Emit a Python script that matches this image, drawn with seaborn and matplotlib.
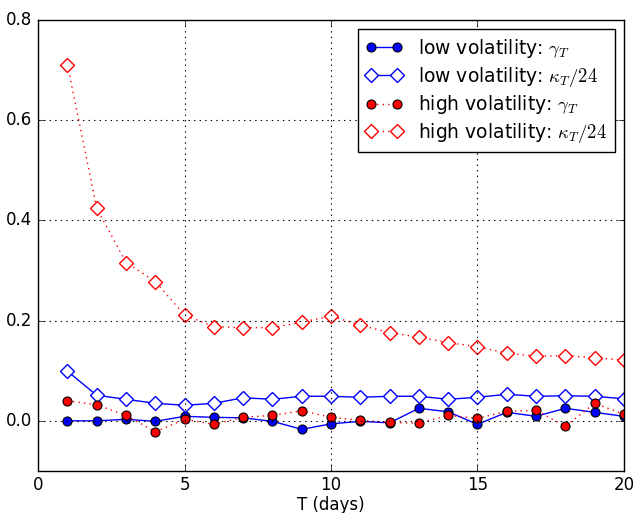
import numpy as np
import pandas as pd
import matplotlib
matplotlib.use('Agg')
import matplotlib.pyplot as plt
import seaborn as sns

# horizonte en dias
T = list(range(1, 21))

low_gamma = [0.0, 0.0, 0.003, -0.001, 0.009, 0.007, 0.006, -0.001, -0.017, -0.006,
             -0.001, -0.004, 0.025, 0.018, -0.007, 0.017, 0.009, 0.025, 0.017, 0.009]
low_kappa = [0.099, 0.051, 0.043, 0.035, 0.031, 0.035, 0.046, 0.043, 0.049, 0.049,
             0.047, 0.049, 0.049, 0.043, 0.047, 0.053, 0.049, 0.050, 0.049, 0.044]
high_gamma = [0.040, 0.032, 0.011, -0.022, 0.003, -0.007, 0.007, 0.011, 0.020, 0.007,
              0.001, -0.003, -0.005, 0.011, 0.005, 0.019, 0.021, -0.011, 0.035, 0.013]
high_kappa = [0.711, 0.424, 0.316, 0.278, 0.211, 0.188, 0.186, 0.186, 0.197, 0.209,
              0.191, 0.176, 0.167, 0.156, 0.148, 0.135, 0.129, 0.130, 0.126, 0.121]

labels = [r'low volatility: $\gamma_T$', r'low volatility: $\kappa_T/24$',
          r'high volatility: $\gamma_T$', r'high volatility: $\kappa_T/24$']

plt.style.use('classic')

fig = plt.figure(figsize=(6.36, 5.13), dpi=100, facecolor='white')
ax = fig.add_axes([0.06, 0.082, 0.921, 0.879])

# volatilidad baja
sns.lineplot(x=T, y=low_gamma, ax=ax, color='blue', linestyle='-', marker='o',
             markersize=6.5, markerfacecolor='blue', markeredgecolor='black',
             markeredgewidth=0.8, label=labels[0])
sns.lineplot(x=T, y=low_kappa, ax=ax, color='blue', linestyle='-', marker='D',
             markersize=7, markerfacecolor='white', markeredgecolor='blue',
             markeredgewidth=1.0, label=labels[1])
# volatilidad alta
sns.lineplot(x=T, y=high_gamma, ax=ax, color='red', linestyle=':', marker='o',
             markersize=6.5, markerfacecolor='red', markeredgecolor='black',
             markeredgewidth=0.8, label=labels[2])
sns.lineplot(x=T, y=high_kappa, ax=ax, color='red', linestyle=':', marker='D',
             markersize=7, markerfacecolor='white', markeredgecolor='red',
             markeredgewidth=1.0, label=labels[3])

ax.set_xlim(0, 20)
ax.set_ylim(-0.1, 0.8)
ax.set_xticks([0, 5, 10, 15, 20])
ax.set_yticks([0.0, 0.2, 0.4, 0.6, 0.8])
ax.grid(True, color='black', linestyle=':', linewidth=0.8)
ax.set_xlabel('T (days)', fontsize=12, labelpad=1)
ax.set_ylabel('')
ax.tick_params(labelsize=12)

ax.legend(loc='upper right', fontsize=13.5, numpoints=2, fancybox=False,
          frameon=True, edgecolor='black', borderaxespad=0.5,
          labelspacing=0.25, handletextpad=0.8)

fig.savefig('out.png', dpi=100, facecolor='white')
